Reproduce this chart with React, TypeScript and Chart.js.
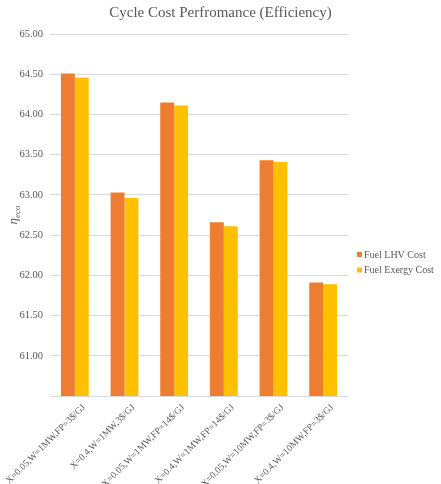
import React, { useEffect, useRef } from "react";
import { Chart, registerables } from "chart.js";

Chart.register(...registerables);

const categories = [
  "X=0.05,W=1MW,FP=3$/GJ",
  "X=0.4,W=1MW,3$/GJ",
  "X=0.05,W=1MW,FP=14$/GJ",
  "X=0.4,W=1MW,FP=14$/GJ",
  "X=0.05,W=10MW,FP=3$/GJ",
  "X=0.4,W=10MW,FP=3$/GJ",
];
const fuelLhvCost = [64.51, 63.03, 64.15, 62.66, 63.43, 61.91];
const fuelExergyCost = [64.46, 62.96, 64.11, 62.61, 63.41, 61.89];
const seriesNames = ["Fuel LHV Cost", "Fuel Exergy Cost"];
const seriesColors = ["#ED7D31", "#FFC000"];
const chartTitle = "Cycle Cost Perfromance (Efficiency)";
const yMin = 60.5;
const yMax = 65;

const TEXT = "#595959";
const SERIF = "'Liberation Serif', 'Times New Roman', serif";

// Title centred on the whole canvas, rotated italic axis title with a
// subscript, and a compact right-hand legend.
const decorations = {
  id: "decorations",
  afterDraw(chart: any) {
    const { ctx, chartArea, width } = chart;

    ctx.save();
    ctx.fillStyle = TEXT;
    ctx.font = `15px ${SERIF}`;
    ctx.textAlign = "center";
    ctx.textBaseline = "middle";
    ctx.fillText(chartTitle, width / 2, 13);
    ctx.restore();

    ctx.save();
    const cy = (chartArea.top + chartArea.bottom) / 2;
    ctx.translate(13, cy);
    ctx.rotate(-Math.PI / 2);
    ctx.fillStyle = TEXT;
    ctx.textBaseline = "alphabetic";
    ctx.font = `italic 13px ${SERIF}`;
    const main = "η";
    const sub = "eco";
    const mw = ctx.measureText(main).width;
    ctx.font = `italic 9px ${SERIF}`;
    const sw = ctx.measureText(sub).width;
    const x0 = -(mw + sw) / 2;
    ctx.font = `italic 13px ${SERIF}`;
    ctx.textAlign = "left";
    ctx.fillText(main, x0, 4);
    ctx.font = `italic 9px ${SERIF}`;
    ctx.fillText(sub, x0 + mw, 7);
    ctx.restore();

    ctx.save();
    const lx = chartArea.right + 9;
    let ly = 255;
    ctx.font = `10px ${SERIF}`;
    ctx.textBaseline = "middle";
    ctx.textAlign = "left";
    chart.data.datasets.forEach((ds: any) => {
      ctx.fillStyle = ds.backgroundColor;
      ctx.fillRect(lx, ly - 3, 5, 5);
      ctx.fillStyle = TEXT;
      ctx.fillText(ds.label, lx + 7, ly);
      ly += 15.5;
    });
    ctx.restore();
  },
};

export default function App() {
  const canvasRef = useRef<HTMLCanvasElement | null>(null);

  useEffect(() => {
    if (!canvasRef.current) return;
    const chart = new Chart(canvasRef.current, {
      type: "bar",
      data: {
        labels: categories,
        datasets: [
          {
            label: seriesNames[0],
            data: fuelLhvCost,
            backgroundColor: seriesColors[0],
            barPercentage: 1,
            categoryPercentage: 0.56,
          },
          {
            label: seriesNames[1],
            data: fuelExergyCost,
            backgroundColor: seriesColors[1],
            barPercentage: 1,
            categoryPercentage: 0.56,
          },
        ],
      },
      plugins: [decorations],
      options: {
        animation: false,
        responsive: false,
        maintainAspectRatio: false,
        layout: { padding: { left: 0, right: 93, top: 34, bottom: 0 } },
        plugins: {
          legend: { display: false },
          tooltip: { enabled: false },
          title: { display: false },
        },
        scales: {
          x: {
            grid: { display: false, drawTicks: false },
            border: { display: true, color: "#D9D9D9" },
            ticks: {
              color: TEXT,
              font: { family: SERIF, size: 9.5 },
              minRotation: 45,
              maxRotation: 45,
              padding: 6,
              labelOffset: 9,
              autoSkip: false,
            },
            afterFit(scale: any) {
              scale.height = 88;
              scale.paddingLeft = 0;
              scale.paddingRight = 0;
            },
          },
          y: {
            min: yMin,
            max: yMax,
            grid: { color: "#D9D9D9", drawTicks: false },
            border: { display: false },
            ticks: {
              stepSize: 0.5,
              color: TEXT,
              font: { family: SERIF, size: 10.5 },
              padding: 7,
              callback: (v: any) => (Number(v) <= yMin + 1e-9 ? "" : Number(v).toFixed(2)),
            },
            afterFit(scale: any) {
              scale.width = 50;
              scale.paddingTop = 0;
              scale.paddingBottom = 0;
            },
          },
        },
      },
    });
    return () => chart.destroy();
  }, []);

  return (
    <div style={{ position: "fixed", left: 0, top: 0, width: 441, height: 484, background: "#fff" }}>
      <canvas ref={canvasRef} width={441} height={484} style={{ width: 441, height: 484 }} />
    </div>
  );
}
